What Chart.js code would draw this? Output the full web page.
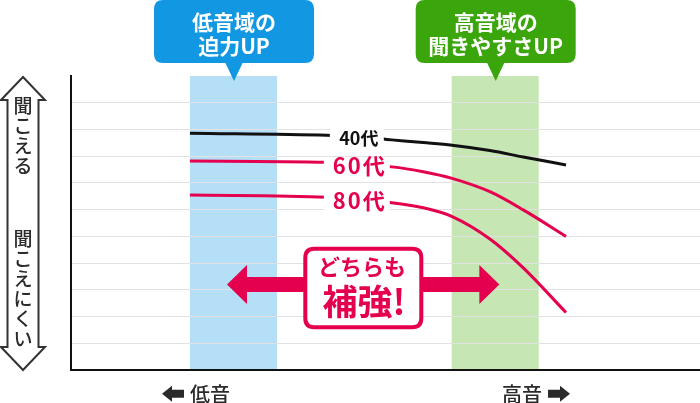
<!DOCTYPE html>
<html><head><meta charset="utf-8">
<script src="https://cdn.jsdelivr.net/npm/chart.js@4.4.1/dist/chart.umd.min.js"></script>
<style>html,body{margin:0;padding:0;background:#fff}canvas{display:block}</style>
</head><body>
<canvas id="c" width="700" height="403"></canvas>
<script>
// ---- data ----
const freqPos = [18.9, 40.7, 45.6, 51.0, 56.0, 60.6, 66.6, 71.9, 78.7];
const age40 = [21.4, 22.2, 22.8, 23.9, 24.9, 25.9, 27.9, 30.3, 33.3];
const age60 = [31.8, 32.3, 33.3, 34.0, 35.8, 38.3, 43.3, 50.1, 60.0];
const age80 = [44.5, 45.4, 46.4, 47.4, 49.3, 52.6, 61.0, 71.8, 88.5];
const seriesNames = ['40代', '60代', '80代'];
const labelIndex = 2;
const lowBand = [18.92, 32.75];
const highBand = [60.52, 74.36];
const bandTitles = [['低音域の', '迫力UP'], ['高音域の', '聞きやすさUP']];
const arrowSpan = [24.8, 68.1];
const centerNote = ['どちらも', '補強!'];
const yAxisTop = '聞こえる';
const yAxisBottom = '聞こえにくい';
const xAxisLow = '低音';
const xAxisHigh = '高音';

const FONT = '"Noto Sans CJK JP", "Noto Sans", sans-serif';
const RED = '#e4004f';
const BLUE = '#1297e2';
const GREEN = '#3ba50c';

function rr(ctx, x, y, w, h, r) {
  ctx.beginPath();
  ctx.moveTo(x + r, y);
  ctx.lineTo(x + w - r, y);
  ctx.quadraticCurveTo(x + w, y, x + w, y + r);
  ctx.lineTo(x + w, y + h - r);
  ctx.quadraticCurveTo(x + w, y + h, x + w - r, y + h);
  ctx.lineTo(x + r, y + h);
  ctx.quadraticCurveTo(x, y + h, x, y + h - r);
  ctx.lineTo(x, y + r);
  ctx.quadraticCurveTo(x, y, x + r, y);
  ctx.closePath();
}

const deco = {
  id: 'deco',
  beforeDraw(chart) {
    const {ctx, chartArea: a, scales: {x}} = chart;
    ctx.save();
    ctx.fillStyle = '#fff';
    ctx.fillRect(0, 0, chart.width, chart.height);
    ctx.fillStyle = '#b5def7';
    ctx.fillRect(x.getPixelForValue(lowBand[0]), a.top, x.getPixelForValue(lowBand[1]) - x.getPixelForValue(lowBand[0]), a.bottom - a.top);
    ctx.fillStyle = '#c6e6b3';
    ctx.fillRect(x.getPixelForValue(highBand[0]), a.top, x.getPixelForValue(highBand[1]) - x.getPixelForValue(highBand[0]), a.bottom - a.top);
    ctx.restore();
  },
  afterDatasetsDraw(chart) {
    const {ctx} = chart;
    ctx.save();
    ctx.textAlign = 'center';
    ctx.textBaseline = 'middle';
    chart.data.datasets.forEach((ds, i) => {
      const pt = chart.getDatasetMeta(i).data[labelIndex];
      const cx = pt.x + 1, cy = pt.y + 1;
      const w = i === 0 ? 54 : 66;
      ctx.fillStyle = '#fff';
      ctx.fillRect(cx - w / 2 - 2, cy - 9, w, 18);
      ctx.fillStyle = ds.borderColor;
      if (i === 0) {
        ctx.font = 'bold 18px ' + FONT;
        ctx.letterSpacing = '0px';
        ctx.fillText(ds.label, cx, cy);
      } else {
        ctx.font = 'bold 22px ' + FONT;
        ctx.letterSpacing = '2px';
        ctx.fillText(ds.label, cx + 1, cy);
      }
    });
    ctx.letterSpacing = '0px';
    ctx.restore();
  },
  afterDraw(chart) {
    const {ctx, chartArea: a, scales: {x}} = chart;
    ctx.save();
    ctx.textAlign = 'center';
    ctx.textBaseline = 'middle';
    // callouts
    [[lowBand, BLUE], [highBand, GREEN]].forEach(([band, col], k) => {
      const cx = (x.getPixelForValue(band[0]) + x.getPixelForValue(band[1])) / 2 + 0.5;
      ctx.fillStyle = col;
      rr(ctx, cx - 80, 0, 160, 63, 9);
      ctx.fill();
      ctx.beginPath();
      ctx.moveTo(cx - 10, 60);
      ctx.lineTo(cx + 10, 60);
      ctx.lineTo(cx, 81);
      ctx.closePath();
      ctx.fill();
      ctx.fillStyle = '#fff';
      ctx.font = 'bold 21px ' + FONT;
      ctx.fillText(bandTitles[k][0], cx, 22);
      ctx.fillText(bandTitles[k][1], cx, 46);
    });
    // double arrow
    const L = x.getPixelForValue(arrowSpan[0]), R = x.getPixelForValue(arrowSpan[1]);
    const cy = 284.5;
    ctx.fillStyle = RED;
    ctx.beginPath();
    ctx.moveTo(L, cy);
    ctx.lineTo(L + 20, cy - 19.5);
    ctx.lineTo(L + 20, cy - 7.5);
    ctx.lineTo(R - 20, cy - 7.5);
    ctx.lineTo(R - 20, cy - 19.5);
    ctx.lineTo(R, cy);
    ctx.lineTo(R - 20, cy + 19.5);
    ctx.lineTo(R - 20, cy + 7.5);
    ctx.lineTo(L + 20, cy + 7.5);
    ctx.lineTo(L + 20, cy + 19.5);
    ctx.closePath();
    ctx.fill();
    // center box
    rr(ctx, 305.3, 248.7, 116, 78.6, 9);
    ctx.fillStyle = '#fff';
    ctx.fill();
    ctx.lineWidth = 4;
    ctx.strokeStyle = RED;
    ctx.stroke();
    ctx.fillStyle = RED;
    ctx.font = 'bold 22px ' + FONT;
    ctx.fillText(centerNote[0], 362, 267);
    ctx.font = 'bold 35px ' + FONT;
    ctx.fillText(centerNote[1], 364, 302);
    // left vertical arrow
    const ax = 23, top = 77, bot = 370, hw = 22, sw = 15.5, hb = 23;
    ctx.beginPath();
    ctx.moveTo(ax, top);
    ctx.lineTo(ax + hw, top + hb);
    ctx.lineTo(ax + sw, top + hb);
    ctx.lineTo(ax + sw, bot - hb);
    ctx.lineTo(ax + hw, bot - hb);
    ctx.lineTo(ax, bot);
    ctx.lineTo(ax - hw, bot - hb);
    ctx.lineTo(ax - sw, bot - hb);
    ctx.lineTo(ax - sw, top + hb);
    ctx.lineTo(ax - hw, top + hb);
    ctx.closePath();
    ctx.fillStyle = '#fff';
    ctx.fill();
    ctx.lineWidth = 2;
    ctx.strokeStyle = '#333';
    ctx.lineJoin = 'miter';
    ctx.stroke();
    ctx.fillStyle = '#2a2a2a';
    ctx.font = '500 19px ' + FONT;
    [...yAxisTop].forEach((ch, i) => ctx.fillText(ch, ax, 106 + i * 20));
    [...yAxisBottom].forEach((ch, i) => ctx.fillText(ch, ax, 239 + i * 20));
    // bottom labels
    ctx.font = '500 20px ' + FONT;
    ctx.fillText(xAxisLow, 210, 394);
    ctx.fillText(xAxisHigh, 522, 394);
    function fatArrow(tipX, dir) {
      const y0 = 393.7;
      ctx.beginPath();
      ctx.moveTo(tipX, y0);
      ctx.lineTo(tipX + dir * 10, y0 - 8);
      ctx.lineTo(tipX + dir * 10, y0 - 4);
      ctx.lineTo(tipX + dir * 22, y0 - 4);
      ctx.lineTo(tipX + dir * 22, y0 + 4);
      ctx.lineTo(tipX + dir * 10, y0 + 4);
      ctx.lineTo(tipX + dir * 10, y0 + 8);
      ctx.closePath();
      ctx.fill();
    }
    fatArrow(162, 1);
    fatArrow(570, -1);
    ctx.restore();
  }
};

const mk = (arr) => freqPos.map((v, i) => ({x: v, y: arr[i]}));
const lineStyle = {borderWidth: 3, pointRadius: 0, cubicInterpolationMode: 'monotone', fill: false};

new Chart(document.getElementById('c'), {
  type: 'line',
  data: {
    datasets: [
      Object.assign({label: seriesNames[0], data: mk(age40), borderColor: '#111111'}, lineStyle),
      Object.assign({label: seriesNames[1], data: mk(age60), borderColor: RED}, lineStyle),
      Object.assign({label: seriesNames[2], data: mk(age80), borderColor: RED}, lineStyle)
    ]
  },
  options: {
    responsive: false,
    animation: false,
    devicePixelRatio: 1,
    layout: {padding: {left: 71, top: 76, right: 0, bottom: 33}},
    plugins: {legend: {display: false}, tooltip: {enabled: false}},
    scales: {
      x: {
        type: 'linear', min: 0, max: 100,
        ticks: {display: false},
        grid: {display: false, drawTicks: false},
        border: {display: true, color: '#111', width: 2},
        afterFit(s) { s.height = 0; }
      },
      y: {
        type: 'linear', min: 0, max: 110, reverse: true,
        ticks: {display: false, stepSize: 10},
        grid: {drawTicks: false, lineWidth: 1, color: (c) => (c.tick && c.tick.value === 0) ? 'rgba(0,0,0,0)' : '#e2e2e2'},
        border: {display: true, color: '#111', width: 2},
        afterFit(s) { s.width = 0; }
      }
    }
  },
  plugins: [deco]
});
</script>
</body></html>
